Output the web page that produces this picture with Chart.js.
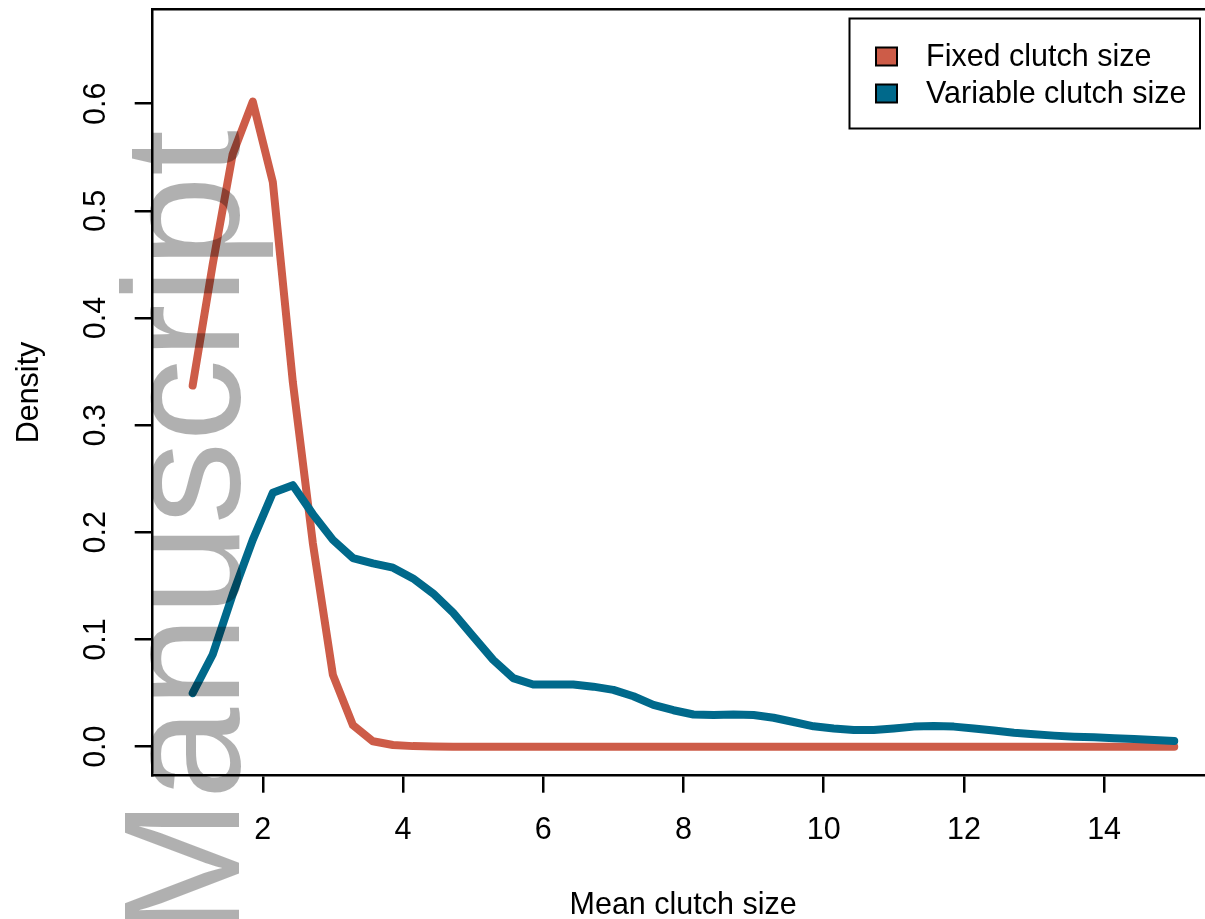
<!DOCTYPE html>
<html>
<head>
<meta charset="utf-8">
<script src="https://cdn.jsdelivr.net/npm/chart.js@4"></script>
<style>
  html, body { margin: 0; padding: 0; background: #fff; overflow: hidden; }
  #wrap { position: relative; width: 1230px; height: 919px; }
</style>
</head>
<body>
<div id="wrap"><canvas id="densityChart"></canvas></div>
<script>
// mean clutch size grid (50 points from 1 to 15)
const clutchSizes = [
  1.000, 1.286, 1.571, 1.857, 2.143, 2.429, 2.714, 3.000, 3.286, 3.571,
  3.857, 4.143, 4.429, 4.714, 5.000, 5.286, 5.571, 5.857, 6.143, 6.429,
  6.714, 7.000, 7.286, 7.571, 7.857, 8.143, 8.429, 8.714, 9.000, 9.286,
  9.571, 9.857, 10.143, 10.429, 10.714, 11.000, 11.286, 11.571, 11.857, 12.143,
  12.429, 12.714, 13.000, 13.286, 13.571, 13.857, 14.143, 14.429, 14.714, 15.000
];

const fixedDensity = [
  0.337, 0.450, 0.553, 0.602, 0.527, 0.340, 0.190, 0.067, 0.020, 0.005,
  0.0015, 0.0005, 0.0002, 0, 0, 0, 0, 0, 0, 0,
  0, 0, 0, 0, 0, 0, 0, 0, 0, 0,
  0, 0, 0, 0, 0, 0, 0, 0, 0, 0,
  0, 0, 0, 0, 0, 0, 0, 0, 0, 0
];

const variableDensity = [
  0.050, 0.086, 0.142, 0.193, 0.237, 0.244, 0.217, 0.193, 0.176, 0.171,
  0.167, 0.157, 0.143, 0.125, 0.103, 0.081, 0.064, 0.058, 0.058, 0.058,
  0.056, 0.053, 0.047, 0.039, 0.034, 0.030, 0.0296, 0.030, 0.0296, 0.027,
  0.023, 0.019, 0.017, 0.0156, 0.0156, 0.017, 0.0187, 0.0193, 0.0187, 0.017,
  0.015, 0.013, 0.0116, 0.0103, 0.0093, 0.0087, 0.0078, 0.0072, 0.0063, 0.0053
];

const xTicks = [2, 4, 6, 8, 10, 12, 14];
const yTicks = [0, 0.1, 0.2, 0.3, 0.4, 0.5, 0.6];

const FONT = "'Liberation Sans', Arial, sans-serif";
const FONT_SIZE = 30.5;
Chart.defaults.font.family = FONT;
Chart.defaults.color = "#000";

// R style box (top edge) + legend with a border
const boxAndLegend = {
    id: "boxAndLegend",
    afterDraw(chart) {
        const ctx = chart.ctx;
        const a = chart.chartArea;
        ctx.save();
        ctx.strokeStyle = "#000";
        ctx.lineWidth = 2.5;
        ctx.beginPath();
        ctx.moveTo(a.left - 1, a.top);
        ctx.lineTo(a.right, a.top);
        ctx.lineTo(a.right, a.bottom);
        ctx.stroke();

        // legend
        ctx.lineWidth = 2;
        ctx.strokeRect(849.5, 18.5, 350.5, 110);
        ctx.font = FONT_SIZE + "px " + FONT;
        ctx.textBaseline = "middle";
        ctx.textAlign = "left";
        chart.data.datasets.forEach((ds, i) => {
            const cy = 56.5 + i * 37;
            ctx.fillStyle = ds.borderColor;
            ctx.fillRect(876, cy - 9, 21, 18);
            ctx.strokeRect(876, cy - 9, 21, 18);
            ctx.fillStyle = "#000";
            ctx.fillText(ds.label, 926, cy + 1);
        });
        ctx.restore();
    }
};

// grey "Manuscript" stamp over the plot
const watermark = {
    id: "watermark",
    afterDraw(chart) {
        const ctx = chart.ctx;
        ctx.save();
        ctx.translate(239, 937);
        ctx.rotate(-Math.PI / 2);
        ctx.font = "165px " + FONT;
        ctx.fillStyle = "rgba(0,0,0,0.31)";
        ctx.textBaseline = "alphabetic";
        ctx.textAlign = "left";
        ctx.fillText("Manuscript", 0, 0);
        ctx.restore();
    }
};

const ctx = document.getElementById("densityChart").getContext("2d");

new Chart(ctx, {
    type: "line",
    data: {
        datasets: [
            {
                label: "Fixed clutch size",
                data: clutchSizes.map((x, i) => ({ x: x, y: fixedDensity[i] })),
                borderColor: "#cd5c48",
                borderWidth: 8,
                pointRadius: 0,
                tension: 0,
                borderCapStyle: "round",
                borderJoinStyle: "round",
                order: 1
            },
            {
                label: "Variable clutch size",
                data: clutchSizes.map((x, i) => ({ x: x, y: variableDensity[i] })),
                borderColor: "#00698b",
                borderWidth: 8,
                pointRadius: 0,
                tension: 0,
                borderCapStyle: "round",
                borderJoinStyle: "round",
                order: 0
            }
        ]
    },
    options: {
        responsive: true,
        maintainAspectRatio: false,
        animation: false,
        layout: { padding: { left: 0, top: 9.3, right: 16.5, bottom: 0 } },
        plugins: {
            legend: { display: false },
            tooltip: { enabled: false }
        },
        scales: {
            x: {
                type: "linear",
                min: 0.43,
                max: 15.56,
                afterBuildTicks: scale => { scale.ticks = xTicks.map(v => ({ value: v })); },
                afterFit: scale => {
                    scale.height = 143.3;
                    scale.paddingLeft = 0;
                    scale.paddingRight = 0;
                },
                grid: { drawOnChartArea: false, drawTicks: true, tickLength: 17, color: "#000", lineWidth: 2.5 },
                border: { display: true, color: "#000", width: 2.5 },
                ticks: { font: { size: FONT_SIZE }, padding: 20, maxRotation: 0, autoSkip: false },
                title: {
                    display: true,
                    text: "Mean clutch size",
                    font: { size: FONT_SIZE, lineHeight: 0.9 },
                    padding: { top: 0, bottom: 0 }
                }
            },
            y: {
                min: -0.0271,
                max: 0.6881,
                afterBuildTicks: scale => { scale.ticks = yTicks.map(v => ({ value: v })); },
                afterFit: scale => {
                    scale.width = 152.7;
                    scale.paddingTop = 0;
                    scale.paddingBottom = 0;
                },
                grid: { drawOnChartArea: false, drawTicks: true, tickLength: 18, color: "#000", lineWidth: 2.5 },
                border: { display: true, color: "#000", width: 2.5 },
                ticks: {
                    font: { size: FONT_SIZE },
                    padding: 17,
                    minRotation: 90,
                    maxRotation: 90,
                    crossAlign: "center",
                    callback: v => v.toFixed(1)
                },
                title: { display: true, text: "Density", font: { size: FONT_SIZE }, padding: { top: 11, bottom: 0 } }
            }
        }
    },
    plugins: [boxAndLegend, watermark]
});
</script>
</body>
</html>
